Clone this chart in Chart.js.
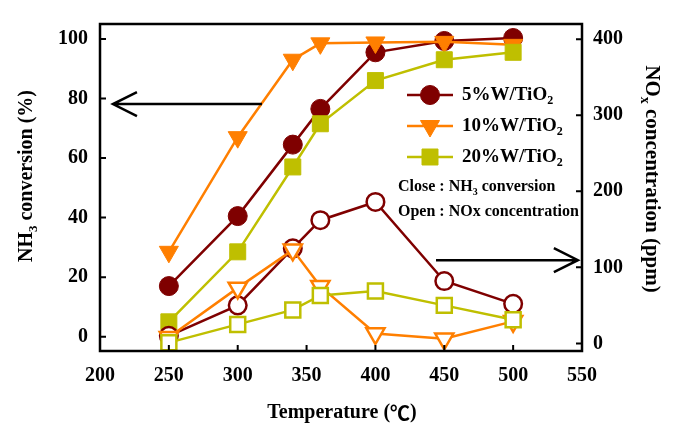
<!DOCTYPE html>
<html><head><meta charset="utf-8">
<script src="https://cdn.jsdelivr.net/npm/chart.js@4/dist/chart.umd.min.js"></script>
<style>html,body{margin:0;padding:0;background:#fff}#wrap{width:673px;height:424px;position:relative}</style>
</head><body><div id="wrap"><canvas id="c"></canvas></div>
<script>
// ---- data ----
const temperatures = [250, 300, 340, 360, 400, 450, 500];
const nh3_5W  = [17, 40.5, 64.5, 76.5, 95.5, 99.3, 100.3];
const nh3_10W = [28.5, 67, 93, 98.5, 98.8, 99, 98];
const nh3_20W = [5, 28.5, 57, 71.5, 86, 93, 95.5];
const nox_5W  = [10, 50, 125, 162, 186, 82, 52];
const nox_10W = [8, 73, 123, 75, 13, 6, 29];
const nox_20W = [1, 25, 44, 63, 69, 50, 31];
const xTicks = [200, 250, 300, 350, 400, 450, 500, 550];
const yLeftTicks = [0, 20, 40, 60, 80, 100];
const yRightTicks = [0, 100, 200, 300, 400];
const seriesNames = ['5%W/TiO', '10%W/TiO', '20%W/TiO'];
// arrow annotations in data units: [xFrom, xTo, yValue]
const leftArrow = [317.6, 209.4, 78.1];
const rightArrow = [444, 547, 109.4];

const colors = ['#7f0000', '#ff7f00', '#bfbf00'];
const FONT = '"Liberation Serif", "Times New Roman", serif';
const CJK = '"Noto Sans CJK SC", "Liberation Serif", serif';

function pts(d) { return temperatures.map((t, i) => ({x: t, y: d[i]})); }
function closedDs(label, d, c, style, r, rot, order) {
  return {label, data: pts(d), yAxisID: 'y', borderColor: c, backgroundColor: c,
    pointBackgroundColor: c, pointBorderColor: c, pointStyle: style, pointRadius: r,
    pointRotation: rot, pointBorderWidth: 1, borderWidth: 2.5, tension: 0, order, clip: false};
}
function openDs(label, d, c, style, r, rot, order) {
  return {label, data: pts(d), yAxisID: 'y2', borderColor: c, backgroundColor: '#fff',
    pointBackgroundColor: '#fff', pointBorderColor: c, pointStyle: style, pointRadius: r,
    pointRotation: rot, pointBorderWidth: 2.5, borderWidth: 2.5, tension: 0, order, clip: false};
}
const markerStyles = [['circle', 9.5, 0], ['triangle', 11, 180], ['rect', 11.3, 0]];
const openMarker = [['circle', 8.8, 0], ['triangle', 10.5, 180], ['rect', 10.6, 0]];

const datasets = [
  closedDs(seriesNames[0], nh3_5W, colors[0], ...markerStyles[0], 6),
  closedDs(seriesNames[1], nh3_10W, colors[1], ...markerStyles[1], 5),
  closedDs(seriesNames[2], nh3_20W, colors[2], ...markerStyles[2], 4),
  openDs(seriesNames[0] + ' NOx', nox_5W, colors[0], ...openMarker[0], 3),
  openDs(seriesNames[1] + ' NOx', nox_10W, colors[1], ...openMarker[1], 2),
  openDs(seriesNames[2] + ' NOx', nox_20W, colors[2], ...openMarker[2], 1),
];

function drawRich(ctx, runs, x, y, size, angle, align) {
  ctx.save();
  ctx.translate(x, y); ctx.rotate(angle);
  const fontOf = r => r.sub ? `bold ${Math.round(size * 0.65)}px ${FONT}` : `bold ${size}px ${r.family || FONT}`;
  let total = 0;
  runs.forEach(r => { ctx.font = fontOf(r); r.w = ctx.measureText(r.t).width; total += r.w; });
  let cx = align === 'center' ? -total / 2 : 0;
  ctx.textBaseline = 'middle'; ctx.textAlign = 'left'; ctx.fillStyle = '#000';
  runs.forEach(r => { ctx.font = fontOf(r); ctx.fillText(r.t, cx, r.sub ? size * 0.32 : 0); cx += r.w; });
  ctx.restore();
}

const decor = {
  id: 'decor',
  afterDatasetsDraw(chart) {
    const ctx = chart.ctx, a = chart.chartArea, s = chart.scales;
    ctx.save();
    // frame
    ctx.strokeStyle = '#000'; ctx.lineWidth = 2.5;
    ctx.strokeRect(a.left, a.top, a.right - a.left, a.bottom - a.top);
    // inward ticks
    ctx.lineWidth = 2;
    ctx.beginPath();
    xTicks.forEach(v => { const px = s.x.getPixelForValue(v); ctx.moveTo(px, a.bottom); ctx.lineTo(px, a.bottom - 6); });
    yLeftTicks.forEach(v => { const py = s.y.getPixelForValue(v); ctx.moveTo(a.left, py); ctx.lineTo(a.left + 6, py); });
    yRightTicks.forEach(v => { const py = s.y2.getPixelForValue(v); ctx.moveTo(a.right, py); ctx.lineTo(a.right - 6, py); });
    ctx.stroke();
    // arrows
    ctx.lineWidth = 2.5;
    const arrow = (x1, x2, py) => {
      const p1 = s.x.getPixelForValue(x1), p2 = s.x.getPixelForValue(x2);
      const dir = p2 > p1 ? -1 : 1;
      ctx.beginPath();
      ctx.moveTo(p1, py); ctx.lineTo(p2, py);
      ctx.moveTo(p2 + dir * 24, py - 12); ctx.lineTo(p2, py); ctx.lineTo(p2 + dir * 24, py + 12);
      ctx.stroke();
    };
    arrow(leftArrow[0], leftArrow[1], s.y.getPixelForValue(leftArrow[2]));
    arrow(rightArrow[0], rightArrow[1], s.y2.getPixelForValue(rightArrow[2]));
    // legend
    const lx = 407, lw = 46, rows = [95, 126, 157];
    for (let i = 0; i < 3; i++) {
      const ds = chart.data.datasets[i];
      ctx.strokeStyle = ds.borderColor; ctx.lineWidth = 2.5;
      ctx.beginPath(); ctx.moveTo(lx, rows[i]); ctx.lineTo(lx + lw, rows[i]); ctx.stroke();
      ctx.fillStyle = ds.pointBackgroundColor; ctx.strokeStyle = ds.pointBorderColor; ctx.lineWidth = 1;
      Chart.helpers.drawPoint(ctx, {pointStyle: ds.pointStyle, radius: ds.pointRadius, rotation: ds.pointRotation, borderWidth: 1}, lx + lw / 2, rows[i]);
      drawRich(ctx, [{t: seriesNames[i]}, {t: '2', sub: true}], 462, rows[i], 19, 0, 'left');
    }
    drawRich(ctx, [{t: 'Close : NH'}, {t: '3', sub: true}, {t: ' conversion'}], 398, 187, 16, 0, 'left');
    drawRich(ctx, [{t: 'Open : NOx concentration'}], 398, 212, 16, 0, 'left');
    // axis titles
    drawRich(ctx, [{t: 'NH'}, {t: '3', sub: true}, {t: ' conversion (%)'}], 27, 176, 20, -Math.PI / 2, 'center');
    drawRich(ctx, [{t: 'NO'}, {t: 'x', sub: true}, {t: ' concentration (ppm)'}], 651, 179, 21, Math.PI / 2, 'center');
    drawRich(ctx, [{t: 'Temperature ('}, {t: '℃', family: CJK}, {t: ')'}], 342, 413, 20, 0, 'center');
    ctx.restore();
  }
};

const tickFont = {family: FONT, size: 20, weight: 'bold'};
new Chart(document.getElementById('c'), {
  type: 'line',
  data: {datasets},
  options: {
    responsive: true, maintainAspectRatio: false, animation: false,
    layout: {padding: {top: 9, left: 0, right: 0, bottom: 0}},
    plugins: {legend: {display: false}, tooltip: {enabled: false}},
    scales: {
      x: {type: 'linear', min: 200, max: 550,
        afterBuildTicks: sc => { sc.ticks = xTicks.map(v => ({value: v})); },
        afterFit: sc => { sc.height = 73; },
        grid: {display: false, drawTicks: false}, border: {display: false},
        ticks: {font: tickFont, color: '#000', padding: 13, maxRotation: 0, autoSkip: false}},
      y: {type: 'linear', position: 'left', min: -4.8, max: 105,
        afterBuildTicks: sc => { sc.ticks = yLeftTicks.map(v => ({value: v})); },
        afterFit: sc => { sc.width = 100; },
        grid: {display: false, drawTicks: false}, border: {display: false},
        ticks: {font: tickFont, color: '#000', padding: 12}},
      y2: {type: 'linear', position: 'right', min: -10, max: 420,
        afterBuildTicks: sc => { sc.ticks = yRightTicks.map(v => ({value: v})); },
        afterFit: sc => { sc.width = 91; },
        grid: {display: false, drawTicks: false}, border: {display: false},
        ticks: {font: tickFont, color: '#000', padding: 11}}
    }
  },
  plugins: [decor]
});
</script></body></html>
